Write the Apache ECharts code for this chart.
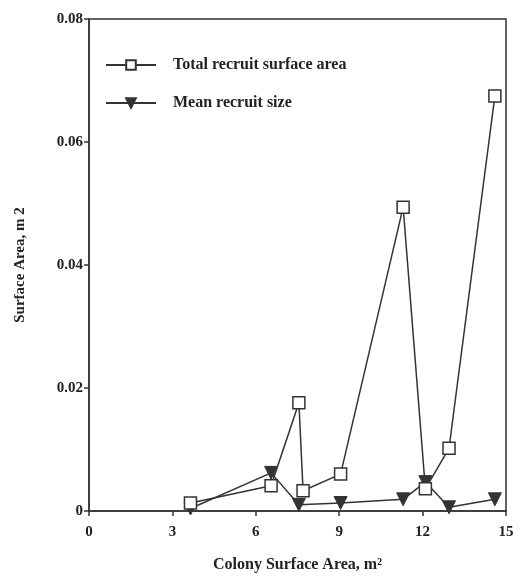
<!DOCTYPE html>
<html>
<head>
<meta charset="utf-8">
<script src="https://cdn.jsdelivr.net/npm/echarts@6/dist/echarts.min.js"></script>
<style>html,body{margin:0;padding:0;background:#fff}#c{width:527px;height:578px}</style>
</head>
<body>
<div id="c"></div>
<script>
var totalX = [3.65, 6.55, 7.55, 7.7, 9.05, 11.3, 12.1, 12.95, 14.6];
var totalY = [0.0013, 0.0041, 0.0176, 0.0033, 0.006, 0.0494, 0.0036, 0.0102, 0.0675];
var meanX = [3.65, 6.55, 7.55, 9.05, 11.3, 12.1, 12.95, 14.6];
var meanY = [0.0004, 0.0062, 0.001, 0.0013, 0.0019, 0.0047, 0.0006, 0.0019];
var xTicks = [0, 3, 6, 9, 12, 15];
var yTicks = [0, 0.02, 0.04, 0.06, 0.08];
var seriesNames = ['Total recruit surface area', 'Mean recruit size'];

function pairs(xs, ys) { return xs.map(function (x, i) { return [x, ys[i]]; }); }

var font = 'Liberation Serif';
var ink = '#333';
var chart = echarts.init(document.getElementById('c'));
chart.setOption({
  animation: false,
  backgroundColor: '#fff',
  grid: { left: 89, right: 21, top: 19, bottom: 64, show: true, borderColor: ink, borderWidth: 1.5, backgroundColor: 'transparent' },
  legend: {
    orient: 'vertical', left: 100, top: 52, itemWidth: 50, itemHeight: 12, itemGap: 22,
    textStyle: { fontFamily: font, fontWeight: 'bold', fontSize: 16, color: '#222', padding: [0, 0, 0, 12] },
    data: seriesNames
  },
  xAxis: {
    type: 'value', min: xTicks[0], max: xTicks[xTicks.length - 1], interval: 3,
    name: 'Colony Surface Area, m²', nameLocation: 'middle', nameGap: 46,
    nameTextStyle: { fontFamily: font, fontWeight: 'bold', fontSize: 16, color: '#222' },
    axisLine: { lineStyle: { color: ink, width: 1.5 } },
    axisTick: { inside: false, length: 5, lineStyle: { color: ink, width: 1.5 } },
    axisLabel: { fontFamily: font, fontWeight: 'bold', fontSize: 15, color: '#222', margin: 14 },
    splitLine: { show: false }
  },
  yAxis: {
    type: 'value', min: yTicks[0], max: yTicks[yTicks.length - 1], interval: 0.02,
    name: 'Surface Area, m 2', nameLocation: 'middle', nameGap: 61,
    nameTextStyle: { fontFamily: font, fontWeight: 'bold', fontSize: 15, color: '#222' },
    axisLine: { show: true, lineStyle: { color: ink, width: 1.5 } },
    axisTick: { show: true, inside: false, length: 5, lineStyle: { color: ink, width: 1.5 } },
    axisLabel: { fontFamily: font, fontWeight: 'bold', fontSize: 15, color: '#222', margin: 6,
      formatter: function (v) { return v === 0 ? '0' : v.toFixed(2); } },
    splitLine: { show: false }
  },
  series: [
    {
      name: seriesNames[0], type: 'line', data: pairs(totalX, totalY),
      symbol: 'rect', symbolSize: 12, showAllSymbol: true,
      lineStyle: { color: ink, width: 1.5 },
      itemStyle: { color: '#fff', borderColor: ink, borderWidth: 1.5 },
      z: 3
    },
    {
      name: seriesNames[1], type: 'line', data: pairs(meanX, meanY),
      symbol: 'triangle', symbolRotate: 180, symbolSize: 13, showAllSymbol: true,
      lineStyle: { color: ink, width: 1.5 },
      itemStyle: { color: ink, borderColor: ink, borderWidth: 1 },
      z: 2
    }
  ]
});
</script>
</body>
</html>
